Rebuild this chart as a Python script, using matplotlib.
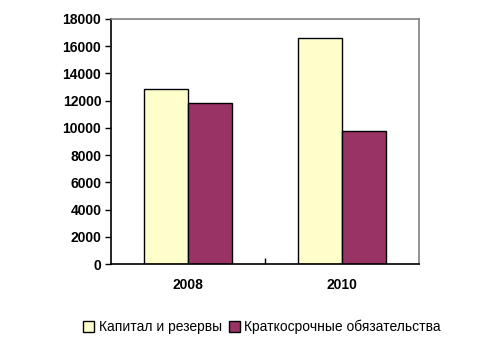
import matplotlib
matplotlib.use("Agg")
import matplotlib.pyplot as plt
import numpy as np
from matplotlib.patches import Patch

plt.rcParams['font.family'] = ['Liberation Sans', 'DejaVu Sans']

years = ["2008", "2010"]
series_names = ["Капитал и резервы", "Краткосрочные обязательства"]
capital = [12850, 16600]
shortterm = [11800, 9750]
colors = ["#FFFFCC", "#993366"]

fig = plt.figure(figsize=(5.01, 3.53), dpi=100)
ax = fig.add_axes([111/501, 1 - 264/353, (419-111)/501, (264-19)/353])

x = np.arange(len(years))
w = 0.288
ax.bar(x - w/2, capital, w, color=colors[0], edgecolor="black", linewidth=1)
ax.bar(x + w/2, shortterm, w, color=colors[1], edgecolor="black", linewidth=1)

ax.set_xlim(-0.5, 1.5)
ax.set_ylim(0, 18000)
ax.set_yticks(np.arange(0, 18001, 2000))
ax.set_yticklabels([str(v) for v in range(0, 18001, 2000)], fontsize=10, fontweight="bold")
ax.set_xticks(x)
ax.set_xticklabels(years, fontsize=10, fontweight="bold")
ax.tick_params(axis="x", length=0, pad=10)
ax.tick_params(axis="y", length=4, direction="out", width=1, pad=3)
ax.set_xticks([0.5], minor=True)
ax.tick_params(axis="x", which="minor", length=4, direction="in", width=1)

for s in ["top", "right"]:
    ax.spines[s].set_color("#808080")
    ax.spines[s].set_linewidth(1.2)
for s in ["left", "bottom"]:
    ax.spines[s].set_color("black")
    ax.spines[s].set_linewidth(1.2)

handles = [Patch(facecolor=c, edgecolor="black", linewidth=1) for c in colors]
fig.legend(handles, series_names, loc="center", bbox_to_anchor=(262/501, 1 - 327/353),
           ncol=2, frameon=False, fontsize=10, handlelength=0.8, handleheight=0.8,
           handletextpad=0.3, columnspacing=0.5)

fig.savefig("out.png", dpi=100)
